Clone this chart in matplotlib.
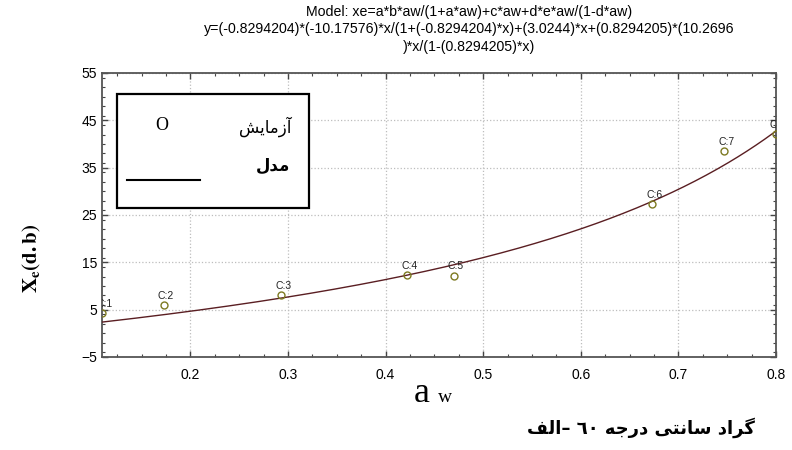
#!/usr/bin/env python3
"""Sorption isotherm at 60 C: measured points C:1..C:8 and the fitted model curve."""
import numpy as np
import matplotlib
matplotlib.use('Agg')
import matplotlib.pyplot as plt
from matplotlib.patches import Rectangle
from matplotlib.ticker import MultipleLocator

# measured points
aw = [0.110, 0.173, 0.293, 0.422, 0.470, 0.673, 0.747, 0.800]
xe = [4.3, 6.0, 8.1, 12.3, 12.2, 27.3, 38.5, 42.1]
point_labels = ['C:1', 'C:2', 'C:3', 'C:4', 'C:5', 'C:6', 'C:7', 'C:8']

# fitted model parameters (from the title)
a_p = -0.8294204
b_p = -10.17576
c_p = 3.0244
d_p = 0.8294205
e_p = 10.2696

x_lim = (0.1095, 0.8)
y_lim = (-5, 55)
x_ticks = [0.2, 0.3, 0.4, 0.5, 0.6, 0.7, 0.8]
y_ticks = [-5, 5, 15, 25, 35, 45, 55]

title_lines = [
    'Model: xe=a*b*aw/(1+a*aw)+c*aw+d*e*aw/(1-d*aw)',
    'y=(-0.8294204)*(-10.17576)*x/(1+(-0.8294204)*x)+(3.0244)*x+(0.8294205)*(10.2696',
    ')*x/(1-(0.8294205)*x)',
]
legend_points = 'آزمایش'
legend_model = 'مدل'
# caption pieces, named one by one
cap_alef = 'الف'
cap_num = '٦٠'
cap_daraje = 'درجه'
cap_santi = 'سانتی'
cap_grad = 'گراد'

# --- tiny Arabic shaper (matplotlib has no complex text layout) ---
FORMS = {
    # letter: (isolated, final, initial, medial)
    'ا': ('\uFE8D', '\uFE8E', None, None),
    'آ': ('\uFE81', '\uFE82', None, None),
    'د': ('\uFEA9', '\uFEAA', None, None),
    'ر': ('\uFEAD', '\uFEAE', None, None),
    'ز': ('\uFEAF', '\uFEB0', None, None),
    'م': ('\uFEE1', '\uFEE2', '\uFEE3', '\uFEE4'),
    'ی': ('\uFBFC', '\uFBFD', '\uFBFE', '\uFBFF'),
    'ش': ('\uFEB5', '\uFEB6', '\uFEB7', '\uFEB8'),
    'ل': ('\uFEDD', '\uFEDE', '\uFEDF', '\uFEE0'),
    'ف': ('\uFED1', '\uFED2', '\uFED3', '\uFED4'),
    'ج': ('\uFE9D', '\uFE9E', '\uFE9F', '\uFEA0'),
    'ه': ('\uFEE9', '\uFEEA', '\uFEEB', '\uFEEC'),
    'س': ('\uFEB1', '\uFEB2', '\uFEB3', '\uFEB4'),
    'ن': ('\uFEE5', '\uFEE6', '\uFEE7', '\uFEE8'),
    'ت': ('\uFE95', '\uFE96', '\uFE97', '\uFE98'),
    'گ': ('\uFB92', '\uFB93', '\uFB94', '\uFB95'),
}


def dual(ch):
    return ch in FORMS and FORMS[ch][2] is not None


def shape(word):
    """Pick contextual forms and return the glyphs in visual (left-to-right) order."""
    out = []
    for i, ch in enumerate(word):
        if ch not in FORMS:
            out.append(ch)
            continue
        prev = word[i - 1] if i > 0 else ''
        nxt = word[i + 1] if i + 1 < len(word) else ''
        jp = dual(prev)
        jn = dual(ch) and nxt in FORMS
        iso, fin, ini, med = FORMS[ch]
        if jp and jn:
            out.append(med)
        elif jp:
            out.append(fin)
        elif jn:
            out.append(ini)
        else:
            out.append(iso)
    if all(c.isdigit() for c in word):
        return word
    return ''.join(reversed(out))


plt.rcParams['font.family'] = ['Liberation Sans', 'DejaVu Sans']
plt.rcParams['mathtext.fontset'] = 'stix'

fig = plt.figure(figsize=(7.92, 4.5), dpi=100)
ax = fig.add_axes([102 / 792, 1 - 357 / 450, 674 / 792, 284 / 450])

xs = np.linspace(x_lim[0], x_lim[1], 300)
ys = a_p * b_p * xs / (1 + a_p * xs) + c_p * xs + d_p * e_p * xs / (1 - d_p * xs)
ax.plot(xs, ys, color='#5a1e22', lw=1.0, zorder=3)

ax.plot(aw, xe, linestyle='none', marker='o', ms=5, mfc='none', mec='#7d7a22', mew=1.0, zorder=4)
for xv, yv, lab in zip(aw, xe, point_labels):
    t = ax.annotate(lab, (xv, yv), xytext=(1.5, 3), textcoords='offset points',
                    ha='center', va='bottom', fontsize=7.5, color='#222222',
                    annotation_clip=False)
    t.set_clip_path(ax.patch)
    t.set_clip_on(True)

ax.set_xlim(*x_lim)
ax.set_ylim(*y_lim)
ax.set_xticks(x_ticks)
ax.set_yticks(y_ticks)
ax.xaxis.set_minor_locator(MultipleLocator(0.025))
ax.yaxis.set_minor_locator(MultipleLocator(2))
ax.tick_params(which='both', direction='in', top=True, right=True, colors='#444444',
               labelcolor='black', labelsize=10)
ax.tick_params(which='major', length=4, width=1)
ax.tick_params(which='minor', length=2.5, width=0.8)
ax.tick_params(axis='x', pad=8)
ax.grid(True, which='major', linestyle=':', color='#bdbdbd', lw=0.9)
for sp in ax.spines.values():
    sp.set_color('#555555')
    sp.set_linewidth(1.3)

# hand-made legend box
x0, x1 = (117 - 102) / 674, (309 - 102) / 674
y0, y1 = (357 - 208) / 284, (357 - 94) / 284
ax.add_patch(Rectangle((x0, y0), x1 - x0, y1 - y0, transform=ax.transAxes,
                       facecolor='white', edgecolor='black', lw=1.6, zorder=6))
ax.text((162 - 102) / 674, (357 - 126) / 284, 'O', transform=ax.transAxes, ha='center',
        va='center', fontsize=13, family='Liberation Serif', zorder=7)
ax.text((292 - 102) / 674, (357 - 127) / 284, shape(legend_points), transform=ax.transAxes,
        ha='right', va='center', fontsize=12, family='DejaVu Sans', zorder=7)
ax.text((290 - 102) / 674, (357 - 166) / 284, shape(legend_model), transform=ax.transAxes,
        ha='right', va='center', fontsize=12, family='DejaVu Sans', weight='bold', zorder=7)
ax.plot([(127 - 102) / 674, (200 - 102) / 674], [(357 - 180) / 284] * 2, color='black',
        lw=1.5, transform=ax.transAxes, zorder=7)

# title, one text per line
for i, line in enumerate(title_lines):
    fig.text(469 / 792, 1 - (12 + 17.5 * i) / 450, line, ha='center', va='center',
             fontsize=10.2)

# axis labels
fig.text(32 / 792, 1 - 258 / 450, r'$\mathbf{X_{e}(d.b)}$', rotation=90, ha='center',
         va='center', fontsize=15)
fig.text(414 / 792, 1 - 402 / 450, 'a', family='Liberation Serif', fontsize=26,
         ha='left', va='baseline')
fig.text(438 / 792, 1 - 402 / 450, 'w', family='Liberation Serif', fontsize=14,
         ha='left', va='baseline')

# caption, pieces laid out left to right as in the picture
caption = (shape(cap_alef) + '– ' + cap_num + ' ' + shape(cap_daraje) + ' '
           + shape(cap_santi) + ' ' + shape(cap_grad))
fig.text(527 / 792, 1 - 428 / 450, caption, family='DejaVu Sans', weight='bold', fontsize=13,
         ha='left', va='center')

fig.savefig('out.png', dpi=100)
